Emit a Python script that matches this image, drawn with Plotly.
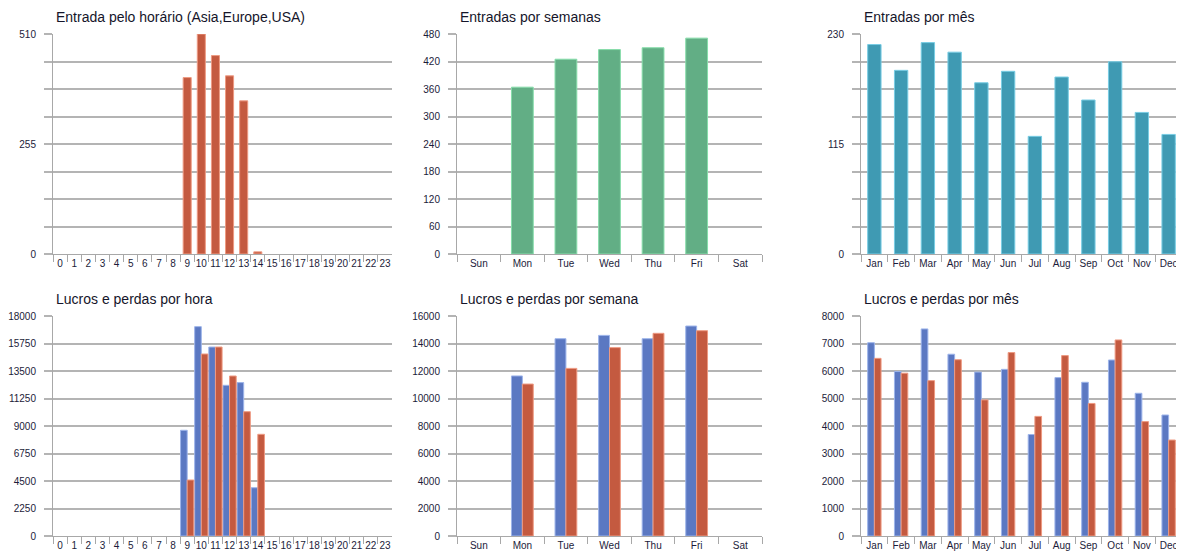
import plotly.graph_objects as go

# ---------------- data ----------------
hours = ["0", "1", "2", "3", "4", "5", "6", "7", "8", "9", "10", "11",
         "12", "13", "14", "15", "16", "17", "18", "19", "20", "21", "22", "23"]
entries_hour = [0, 0, 0, 0, 0, 0, 0, 0, 0, 409, 510, 460,
                413, 355, 5, 0, 0, 0, 0, 0, 0, 0, 0, 0]
profit_hour = [0, 0, 0, 0, 0, 0, 0, 0, 0, 8650, 17130, 15460,
               12330, 12550, 3950, 0, 0, 0, 0, 0, 0, 0, 0, 0]
loss_hour = [0, 0, 0, 0, 0, 0, 0, 0, 0, 4580, 14890, 15460,
             13090, 10170, 8320, 0, 0, 0, 0, 0, 0, 0, 0, 0]

days = ["Sun", "Mon", "Tue", "Wed", "Thu", "Fri", "Sat"]
entries_week = [0, 364, 425, 446, 450, 471, 0]
profit_week = [0, 11640, 14350, 14590, 14350, 15270, 0]
loss_week = [0, 11050, 12190, 13700, 14740, 14930, 0]

months = ["Jan", "Feb", "Mar", "Apr", "May", "Jun",
          "Jul", "Aug", "Sep", "Oct", "Nov", "Dec"]
entries_month = [219, 192, 221, 211, 179, 191, 123, 185, 161, 201, 148, 125]
profit_month = [7030, 5980, 7530, 6610, 5960, 6060, 3690, 5760, 5590, 6400, 5190, 4400]
loss_month = [6460, 5920, 5650, 6410, 4950, 6670, 4350, 6560, 4820, 7130, 4160, 3490]

titles = ["Entrada pelo horário (Asia,Europe,USA)", "Entradas por semanas", "Entradas por mês",
          "Lucros e perdas por hora", "Lucros e perdas por semana", "Lucros e perdas por mês"]

# ---------------- layout helpers ----------------
PAGE_MARGIN = 8  # default body margin of the html page
W, H = 1184 - PAGE_MARGIN, 555 - PAGE_MARGIN
cols_px = [(53, 392), (457, 762), (861, 1182)]
rows_px = [(34, 254), (316, 536)]

def xdom(c):
    a, b = cols_px[c]
    return [(a - PAGE_MARGIN) / W, min(1.0, (b - PAGE_MARGIN) / W)]

def ydom(r):
    t, b = rows_px[r]
    return [1 - (b - PAGE_MARGIN) / H, 1 - (t - PAGE_MARGIN) / H]

RED = "#C45A40"
RED_LINE = "#EE9A82"
BLUE = "#5B78C2"
BLUE_LINE = "#9DB4EA"
GREEN = "#62AE85"
GREEN_LINE = "#86DDAA"
TEAL = "#3F9AB3"
TEAL_LINE = "#78CDE4"

TICKFONT = dict(family="Liberation Sans", size=10, color="#1c1c3a")
GRID = "#B4B4B4"
AXIS = "#A8A8A8"

fig = go.Figure()

def add_bar(idx, x, y, color, line, width, offset):
    ax = "" if idx == 1 else str(idx)
    lw = [1 if v else 0 for v in y]
    fig.add_trace(go.Bar(x=x, y=y, marker=dict(color=color, line=dict(color=line, width=lw)),
                         width=width, offset=offset, xaxis="x" + ax, yaxis="y" + ax,
                         showlegend=False, hoverinfo="x+y"))

add_bar(1, hours, entries_hour, RED, RED_LINE, 0.57, -0.285)
add_bar(2, days, entries_week, GREEN, GREEN_LINE, 0.5, -0.25)
add_bar(3, months, entries_month, TEAL, TEAL_LINE, 0.5, -0.25)
add_bar(4, hours, profit_hour, BLUE, BLUE_LINE, 0.47, -0.47)
add_bar(4, hours, loss_hour, RED, RED_LINE, 0.47, 0.0)
add_bar(5, days, profit_week, BLUE, BLUE_LINE, 0.25, -0.25)
add_bar(5, days, loss_week, RED, RED_LINE, 0.25, 0.0)
add_bar(6, months, profit_month, BLUE, BLUE_LINE, 0.25, -0.25)
add_bar(6, months, loss_month, RED, RED_LINE, 0.25, 0.0)

def yticks(top, n, labeled_every):
    step = top / n
    vals = [step * i for i in range(n + 1)]
    texts = [f"{v:g}" if i % labeled_every == 0 else "" for i, v in enumerate(vals)]
    return vals, texts

ycfg = [(510, 8, 4), (480, 8, 1), (230, 8, 4), (18000, 8, 1), (16000, 8, 1), (8000, 8, 1)]
ncat = [24, 7, 12, 24, 7, 12]

layout = dict(width=W, height=H, margin=dict(l=0, r=0, t=0, b=0, autoexpand=False),
              paper_bgcolor="white", plot_bgcolor="white", barmode="overlay",
              font=dict(family="Liberation Sans", color="#1c1c3a"))
annotations = []
for i in range(6):
    r, c = divmod(i, 3)
    key = "" if i == 0 else str(i + 1)
    top, n, le = ycfg[i]
    tv, tt = yticks(top, n, le)
    layout["xaxis" + key] = dict(domain=xdom(c), anchor="y" + key, type="category",
                                 range=[-0.5, ncat[i] - 0.5], showgrid=False,
                                 showline=True, linecolor=AXIS, linewidth=1,
                                 ticks="outside", tickson="boundaries", ticklen=7,
                                 tickcolor=AXIS, tickfont=TICKFONT, tickangle=0,
                                 automargin=False, fixedrange=True)
    layout["yaxis" + key] = dict(domain=ydom(r), anchor="x" + key, range=[0, top],
                                 tickvals=tv, ticktext=tt, showgrid=True, gridcolor=GRID,
                                 gridwidth=1.5, zeroline=False, showline=True,
                                 linecolor=AXIS, linewidth=1, ticks="outside", ticklen=8,
                                 tickwidth=1.5, tickcolor=GRID, tickfont=TICKFONT,
                                 ticklabelstandoff=6, automargin=False, fixedrange=True)
    annotations.append(dict(text=titles[i], xref="paper", yref="paper",
                            x=(cols_px[c][0] + 1 - PAGE_MARGIN) / W,
                            y=1 - (rows_px[r][0] - 17 - PAGE_MARGIN) / H,
                            xanchor="left", yanchor="middle", showarrow=False,
                            font=dict(family="Liberation Sans", size=14, color="#15152a")))
layout["annotations"] = annotations
fig.update_layout(**layout)

fig.write_html("out.html")
